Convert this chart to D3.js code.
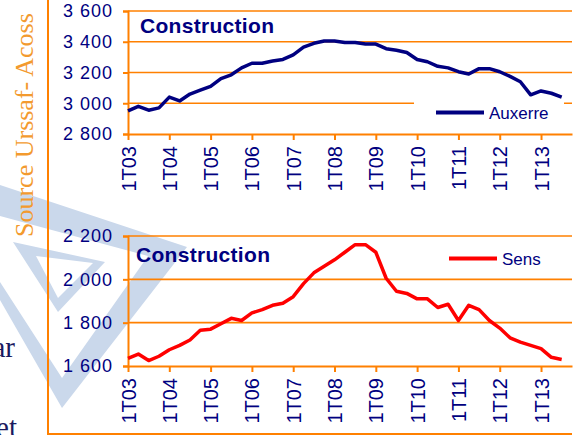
<!DOCTYPE html>
<html>
<head>
<meta charset="utf-8">
<script src="https://cdn.jsdelivr.net/npm/d3@7"></script>
<style>
body { margin:0; background:#fff; }
svg { display:block; font-family: Arial, "Liberation Sans", sans-serif; }
</style>
</head>
<body>
<script>
// quarters 1T03 .. 4T13
var years = ["03","04","05","06","07","08","09","10","11","12","13"];
var quarters = [];
years.forEach(function(y){ for (var q=1;q<=4;q++) quarters.push(q+"T"+y); });
var tickLabels = years.map(function(y){ return "1T"+y; });

var auxerre = [2950,2980,2955,2970,3040,3015,3060,3085,3110,3160,3185,3230,3260,3260,3275,3285,
  3315,3365,3390,3405,3405,3395,3395,3385,3385,3355,3345,3330,3285,3270,3240,3230,
  3205,3190,3225,3225,3205,3175,3140,3055,3080,3065,3040];
var sens = [1635,1655,1625,1645,1675,1695,1720,1765,1770,1795,1820,1810,1845,1860,1880,1890,
  1920,1980,2030,2060,2090,2125,2160,2160,2125,2005,1945,1935,1910,1910,1870,1885,
  1810,1880,1860,1810,1775,1730,1710,1695,1680,1640,1630];
var auxerreTicks = [2800,3000,3200,3400,3600];
var sensTicks = [1600,1800,2000,2200];

var width = 588, height = 435;
var orange = "#ff8000", navy = "#000080";

var svg = d3.select("body").append("svg")
  .attr("width", width).attr("height", height);

// faint logo in the background
var wm = svg.append("g").attr("fill", "#cad8eb").attr("fill-rule", "evenodd");
wm.append("path").attr("d", "M0,185 L187,247 L62,408 L0,300 Z M0,216 L148,256 L62,378 L0,282 Z");
wm.append("path").attr("d", "M13,242 L105,262 L58,312 Z M36,256 L93,263 L58,298 Z");

// slide text cut off on the left
svg.append("text").attr("x", 15).attr("y", 357).attr("text-anchor", "end")
  .style("font-family", "'Liberation Serif', serif").style("font-size", "29px")
  .attr("fill", "#1a1a60").text("ar");
svg.append("text").attr("x", 17).attr("y", 437).attr("text-anchor", "end")
  .style("font-family", "'Liberation Serif', serif").style("font-size", "29px")
  .attr("fill", "#1a1a60").text("et");

svg.append("text")
  .attr("transform", "translate(33,237) rotate(-90)")
  .style("font-family", "'Liberation Serif', 'Times New Roman', serif")
  .style("font-size", "26px")
  .attr("fill", "#f39a2e")
  .text("Source Urssaf- Acoss");

// frame
svg.append("line").attr("x1", 48).attr("x2", 48).attr("y1", 0).attr("y2", 434)
  .attr("stroke", orange).attr("stroke-width", 2);
svg.append("line").attr("x1", 47).attr("x2", 572).attr("y1", 434).attr("y2", 434)
  .attr("stroke", orange).attr("stroke-width", 2);

var x = d3.scalePoint().domain(quarters).range([128, 572]);

function drawChart(opt) {
  var y = d3.scaleLinear().domain(opt.domain).range([opt.bottom, opt.top]);
  var g = svg.append("g");

  g.selectAll(".grid").data(opt.ticks.slice(1)).enter().append("line")
    .attr("x1", 128).attr("x2", 572)
    .attr("y1", function(d){ return y(d); }).attr("y2", function(d){ return y(d); })
    .attr("stroke", orange).attr("stroke-width", 1.6);

  var yAxis = g.append("g").attr("transform", "translate(128,0)")
    .call(d3.axisLeft(y).tickValues(opt.ticks).tickSize(5).tickPadding(10)
      .tickFormat(function(d){ return d3.format(",")(d).replace(",", " "); }));
  yAxis.select(".domain").attr("stroke", orange).attr("stroke-width", 2);
  yAxis.selectAll(".tick line").attr("stroke", orange).attr("stroke-width", 2);
  yAxis.selectAll("text").attr("fill", navy).style("font-size", "18px")
    .style("letter-spacing", "1px").style("font-family", "Arial, 'Liberation Sans', sans-serif");

  var xAxis = g.append("g").attr("transform", "translate(0," + opt.bottom + ")")
    .call(d3.axisBottom(x).tickValues(tickLabels).tickSize(6).tickSizeOuter(0));
  xAxis.select(".domain").attr("stroke", orange).attr("stroke-width", 2);
  xAxis.selectAll(".tick line").attr("stroke", orange).attr("stroke-width", 2);
  xAxis.selectAll("text")
    .attr("fill", navy).style("font-size", "20px")
    .style("font-family", "Arial, 'Liberation Sans', sans-serif")
    .attr("text-anchor", "end")
    .attr("transform", "rotate(-90)")
    .attr("x", -12).attr("y", 0).attr("dy", "0.35em");

  if (opt.legendBox) {
    g.append("rect").attr("x", 414).attr("y", 100).attr("width", 150).attr("height", 26)
      .attr("fill", "#fff");
  }

  var line = d3.line()
    .x(function(d, i){ return x(quarters[i]); })
    .y(function(d){ return y(d); });
  g.append("path").datum(opt.values)
    .attr("d", line).attr("fill", "none")
    .attr("stroke", opt.color).attr("stroke-width", 3.5)
    .attr("stroke-linejoin", "round");

  g.append("text").attr("x", opt.titleX).attr("y", opt.titleY)
    .attr("fill", navy).style("font-size", "21px").style("font-weight", "bold")
    .style("letter-spacing", "0.3px").text("Construction");

  g.append("line").attr("x1", opt.legX).attr("x2", opt.legX + 48)
    .attr("y1", opt.legY).attr("y2", opt.legY)
    .attr("stroke", opt.color).attr("stroke-width", 4);
  g.append("text").attr("x", opt.legX + 53).attr("y", opt.legY + 6.5)
    .attr("fill", navy).style("font-size", "17px").text(opt.name);
}

drawChart({ values: auxerre, ticks: auxerreTicks, domain: [2800, 3600], top: 11, bottom: 134,
  color: navy, name: "Auxerre", titleX: 140, titleY: 33, legX: 436, legY: 112.5, legendBox: true });
drawChart({ values: sens, ticks: sensTicks, domain: [1600, 2200], top: 236, bottom: 366,
  color: "#ff0000", name: "Sens", titleX: 136, titleY: 262, legX: 449, legY: 258.5, legendBox: false });
</script>
</body>
</html>
